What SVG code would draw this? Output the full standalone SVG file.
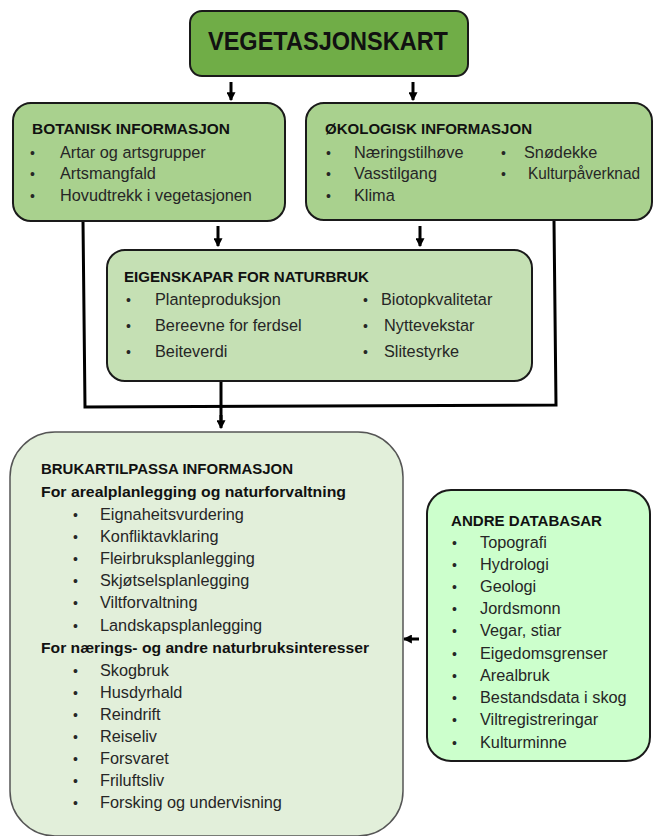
<svg xmlns="http://www.w3.org/2000/svg" width="654" height="836" viewBox="0 0 654 836">
<style>
text{font-family:"Liberation Sans",Arial,sans-serif;}
.h{font-weight:bold;font-size:15px;fill:#111;}
.t{font-size:16.3px;fill:#262626;}
.b{font-size:14px;fill:#262626;}
.box{stroke:#1a1a1a;stroke-width:2;}
.line{fill:none;stroke:#000;stroke-width:3;}
.arr{fill:none;stroke:#000;stroke-width:3;}
</style>
<defs>
<marker id="a" viewBox="0 0 8 8" refX="7" refY="4" markerWidth="9" markerHeight="9" orient="auto" markerUnits="userSpaceOnUse">
<path d="M0,0 L8,4 L0,8 Z" fill="#000"/>
</marker>
</defs>
<g id="connectors">
<line class="arr" x1="231" y1="82" x2="231" y2="100" marker-end="url(#a)"/>
<line class="arr" x1="413" y1="82" x2="413" y2="100" marker-end="url(#a)"/>
<line class="arr" x1="218" y1="226" x2="218" y2="246" marker-end="url(#a)"/>
<line class="arr" x1="420" y1="226" x2="420" y2="246" marker-end="url(#a)"/>
<polyline class="line" points="83,221 85,407 556,405 554,221"/>
<line class="line" x1="221" y1="381" x2="221" y2="420"/>
<line class="arr" x1="221" y1="415" x2="221" y2="428" marker-end="url(#a)"/>
<line class="arr" x1="419" y1="639" x2="404" y2="639" marker-end="url(#a)"/>
</g>
<g id="vegetasjonskart">
<rect class="box" x="190" y="11" width="278" height="65" rx="12" fill="#70AD47"/>
<text x="328" y="50" text-anchor="middle" style="font-weight:bold;font-size:26px;fill:#111" textLength="240" lengthAdjust="spacingAndGlyphs">VEGETASJONSKART</text>
</g>
<g id="botanisk">
<rect class="box" x="13" y="103" width="272" height="118" rx="18" fill="#A9D18E"/>
<text class="h" x="32" y="134" textLength="198" lengthAdjust="spacingAndGlyphs">BOTANISK  INFORMASJON</text>
<text class="b" x="30" y="158">•</text><text class="t" x="60" y="158">Artar og artsgrupper</text>
<text class="b" x="30" y="179">•</text><text class="t" x="60" y="179">Artsmangfald</text>
<text class="b" x="30" y="201">•</text><text class="t" x="60" y="201">Hovudtrekk i vegetasjonen</text>
</g>
<g id="okologisk">
<rect class="box" x="306" y="103" width="346" height="117" rx="18" fill="#A9D18E"/>
<text class="h" x="325" y="134" textLength="207" lengthAdjust="spacingAndGlyphs">ØKOLOGISK INFORMASJON</text>
<text class="b" x="326" y="158">•</text><text class="t" x="354" y="158">Næringstilhøve</text>
<text class="b" x="326" y="179">•</text><text class="t" x="354" y="179">Vasstilgang</text>
<text class="b" x="326" y="201">•</text><text class="t" x="354" y="201">Klima</text>
<text class="b" x="501" y="158">•</text><text class="t" x="524" y="158">Snødekke</text>
<text class="b" x="501" y="179">•</text><text class="t" x="528" y="179" textLength="112" lengthAdjust="spacingAndGlyphs">Kulturpåverknad</text>
</g>
<g id="eigenskapar">
<rect class="box" x="107" y="250" width="425" height="131" rx="18" fill="#C5E0B4"/>
<text class="h" x="124" y="282" textLength="245" lengthAdjust="spacingAndGlyphs">EIGENSKAPAR FOR NATURBRUK</text>
<text class="b" x="126" y="305">•</text><text class="t" x="155" y="305">Planteproduksjon</text>
<text class="b" x="126" y="331">•</text><text class="t" x="155" y="331">Bereevne for ferdsel</text>
<text class="b" x="126" y="357">•</text><text class="t" x="155" y="357">Beiteverdi</text>
<text class="b" x="363" y="305">•</text><text class="t" x="381" y="305">Biotopkvalitetar</text>
<text class="b" x="363" y="331">•</text><text class="t" x="384" y="331">Nyttevekstar</text>
<text class="b" x="363" y="357">•</text><text class="t" x="384" y="357">Slitestyrke</text>
</g>
<g id="brukartilpassa">
<rect x="10" y="432" width="393" height="404" rx="45" fill="#E2EFDA" stroke="#555" stroke-width="1.5"/>
<text class="h" x="41" y="474" textLength="252" lengthAdjust="spacingAndGlyphs">BRUKARTILPASSA INFORMASJON</text>
<text class="h" x="41" y="497" textLength="305" lengthAdjust="spacingAndGlyphs">For arealplanlegging og naturforvaltning</text>
<text class="b" x="73" y="520">•</text><text class="t" x="100" y="520">Eignaheitsvurdering</text>
<text class="b" x="73" y="542">•</text><text class="t" x="100" y="542">Konfliktavklaring</text>
<text class="b" x="73" y="564">•</text><text class="t" x="100" y="564">Fleirbruksplanlegging</text>
<text class="b" x="73" y="586">•</text><text class="t" x="100" y="586">Skjøtselsplanlegging</text>
<text class="b" x="73" y="608">•</text><text class="t" x="100" y="608">Viltforvaltning</text>
<text class="b" x="73" y="631">•</text><text class="t" x="100" y="631">Landskapsplanlegging</text>
<text class="h" x="41" y="653" textLength="328" lengthAdjust="spacingAndGlyphs">For nærings- og andre naturbruksinteresser</text>
<text class="b" x="73" y="676">•</text><text class="t" x="100" y="676">Skogbruk</text>
<text class="b" x="73" y="698">•</text><text class="t" x="100" y="698">Husdyrhald</text>
<text class="b" x="73" y="720">•</text><text class="t" x="100" y="720">Reindrift</text>
<text class="b" x="73" y="742">•</text><text class="t" x="100" y="742">Reiseliv</text>
<text class="b" x="73" y="764">•</text><text class="t" x="100" y="764">Forsvaret</text>
<text class="b" x="73" y="786">•</text><text class="t" x="100" y="786">Friluftsliv</text>
<text class="b" x="73" y="808">•</text><text class="t" x="100" y="808">Forsking og undervisning</text>
</g>
<g id="andre-databasar">
<rect class="box" x="427" y="490" width="223" height="271" rx="24" fill="#CCFFCC"/>
<text class="h" x="451" y="526" textLength="151" lengthAdjust="spacingAndGlyphs">ANDRE DATABASAR</text>
<text class="b" x="452" y="548">•</text><text class="t" x="480" y="548">Topografi</text>
<text class="b" x="452" y="570">•</text><text class="t" x="480" y="570">Hydrologi</text>
<text class="b" x="452" y="592">•</text><text class="t" x="480" y="592">Geologi</text>
<text class="b" x="452" y="614">•</text><text class="t" x="480" y="614">Jordsmonn</text>
<text class="b" x="452" y="636">•</text><text class="t" x="480" y="636">Vegar, stiar</text>
<text class="b" x="452" y="659">•</text><text class="t" x="480" y="659">Eigedomsgrenser</text>
<text class="b" x="452" y="681">•</text><text class="t" x="480" y="681">Arealbruk</text>
<text class="b" x="452" y="703">•</text><text class="t" x="480" y="703">Bestandsdata i skog</text>
<text class="b" x="452" y="725">•</text><text class="t" x="480" y="725">Viltregistreringar</text>
<text class="b" x="452" y="748">•</text><text class="t" x="480" y="748">Kulturminne</text>
</g>
</svg>
